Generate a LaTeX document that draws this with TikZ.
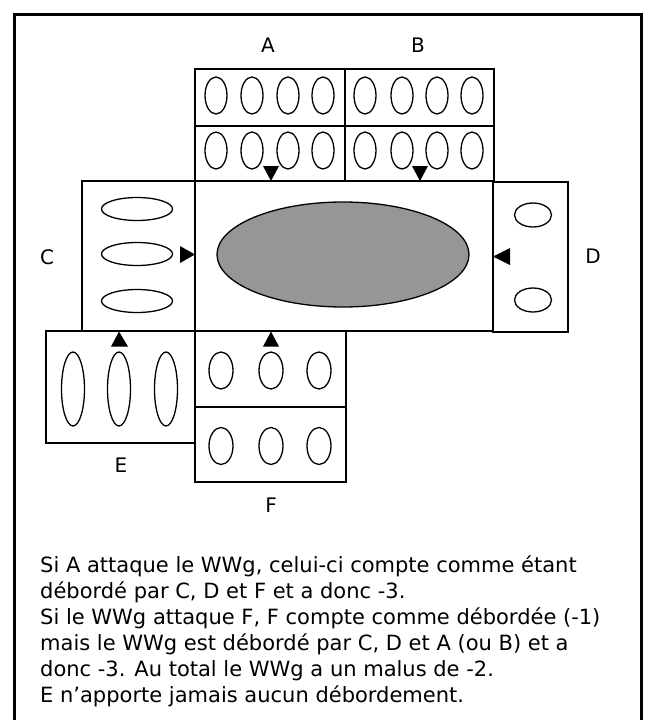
\documentclass[tikz,border=0pt]{standalone}
\usepackage{fontspec}
\setmainfont{DejaVu Sans}
\usetikzlibrary{shapes.geometric}
\definecolor{wwgray}{RGB}{150,150,150}
\begin{document}
\begin{tikzpicture}[x=1pt,y=-1pt,
  box/.style={draw,line width=1.3pt,inner sep=0pt,outer sep=0pt,anchor=north west},
  oval/.style={draw,ellipse,line width=1.3pt,inner sep=0pt,outer sep=0pt},
  voval/.style={oval,minimum width=22pt,minimum height=37pt},
  doval/.style={oval,minimum width=37pt,minimum height=24pt},
  coval/.style={oval,minimum width=71pt,minimum height=23pt},
  eoval/.style={oval,minimum width=23pt,minimum height=74pt},
  foval/.style={oval,minimum width=24pt,minimum height=37pt},
  lab/.style={font=\fontsize{20}{25.5}\selectfont,inner sep=0pt},
  txt/.style={font=\fontsize{21}{26}\selectfont,inner sep=0pt,anchor=base west},
  tri/.style={fill=black}]
\useasboundingbox (0,0) rectangle (646,720);
% outer frame
\draw[line width=3pt] (14.5,740) -- (14.5,14.5) -- (641,14.5) -- (641,740);
% boxes
\node[box,minimum width=150pt,minimum height=57pt] (A1) at (195,69) {};
\node[box,minimum width=150pt,minimum height=55pt] (A2) at (195,126) {};
\node[box,minimum width=149pt,minimum height=57pt] (B1) at (345,69) {};
\node[box,minimum width=149pt,minimum height=55pt] (B2) at (345,126) {};
\node[box,minimum width=113pt,minimum height=150pt] (C) at (82,181) {};
\node[box,minimum width=298pt,minimum height=150pt] (W) at (195,181) {};
\node[box,minimum width=75pt,minimum height=150pt] (D) at (493,182) {};
\node[box,minimum width=149pt,minimum height=112pt] (E) at (46,331) {};
\node[box,minimum width=151pt,minimum height=76pt] (F1) at (195,331) {};
\node[box,minimum width=151pt,minimum height=75pt] (F2) at (195,407) {};
% central oval
\node[oval,fill=wwgray,minimum width=252pt,minimum height=105pt] (wwg) at (343,254.5) {};
% A and B ovals
\foreach \x [count=\i] in {216,252,288,323} {
  \node[voval] (a1\i) at (\x,95.5) {};
  \node[voval] (a2\i) at (\x,150.5) {};
}
\foreach \x [count=\i] in {365,402,437,472} {
  \node[voval] (b1\i) at (\x,95.5) {};
  \node[voval] (b2\i) at (\x,150.5) {};
}
% C ovals
\foreach \y [count=\i] in {209,254,301} {
  \node[coval] (c\i) at (137,\y) {};
}
% D ovals
\node[doval] (d1) at (533,215) {};
\node[doval] (d2) at (533,300) {};
% E ovals
\foreach \x [count=\i] in {73,119,166} {
  \node[eoval] (e\i) at (\x,389) {};
}
% F ovals
\foreach \x [count=\i] in {221,271,319} {
  \node[foval] (f1\i) at (\x,370.5) {};
  \node[foval] (f2\i) at (\x,446) {};
}
% attack markers
\fill[tri] (271,181) -- (263,166) -- (279,166) -- cycle;
\fill[tri] (420,181) -- (412,166) -- (428,166) -- cycle;
\fill[tri] (195,254.5) -- (180,246) -- (180,263) -- cycle;
\fill[tri] (493,256.5) -- (510,248) -- (510,265) -- cycle;
\fill[tri] (119,331.5) -- (111,346.5) -- (128,346.5) -- cycle;
\fill[tri] (271,331.5) -- (263,346.5) -- (279,346.5) -- cycle;
% labels
\node[lab] (lA) at (268,45) {A};
\node[lab] (lB) at (418,45) {B};
\node[lab] (lC) at (47,257) {C};
\node[lab] (lD) at (593,256) {D};
\node[lab] (lE) at (121,465) {E};
\node[lab] (lF) at (271,505) {F};
% text
\node[txt] (t1) at (40,572) {Si A attaque le WWg, celui-ci compte comme étant};
\node[txt] (t2) at (40,598) {débordé par C, D et F et a donc -3.};
\node[txt] (t3) at (40,624) {Si le WWg attaque F, F compte comme débordée (-1)};
\node[txt] (t4) at (40,650) {mais le WWg est débordé par C, D et A (ou B) et a};
\node[txt] (t5) at (40,676) {donc -3. Au total le WWg a un malus de -2.};
\node[txt] (t6) at (40,702) {E n’apporte jamais aucun débordement.};
\end{tikzpicture}
\end{document}
